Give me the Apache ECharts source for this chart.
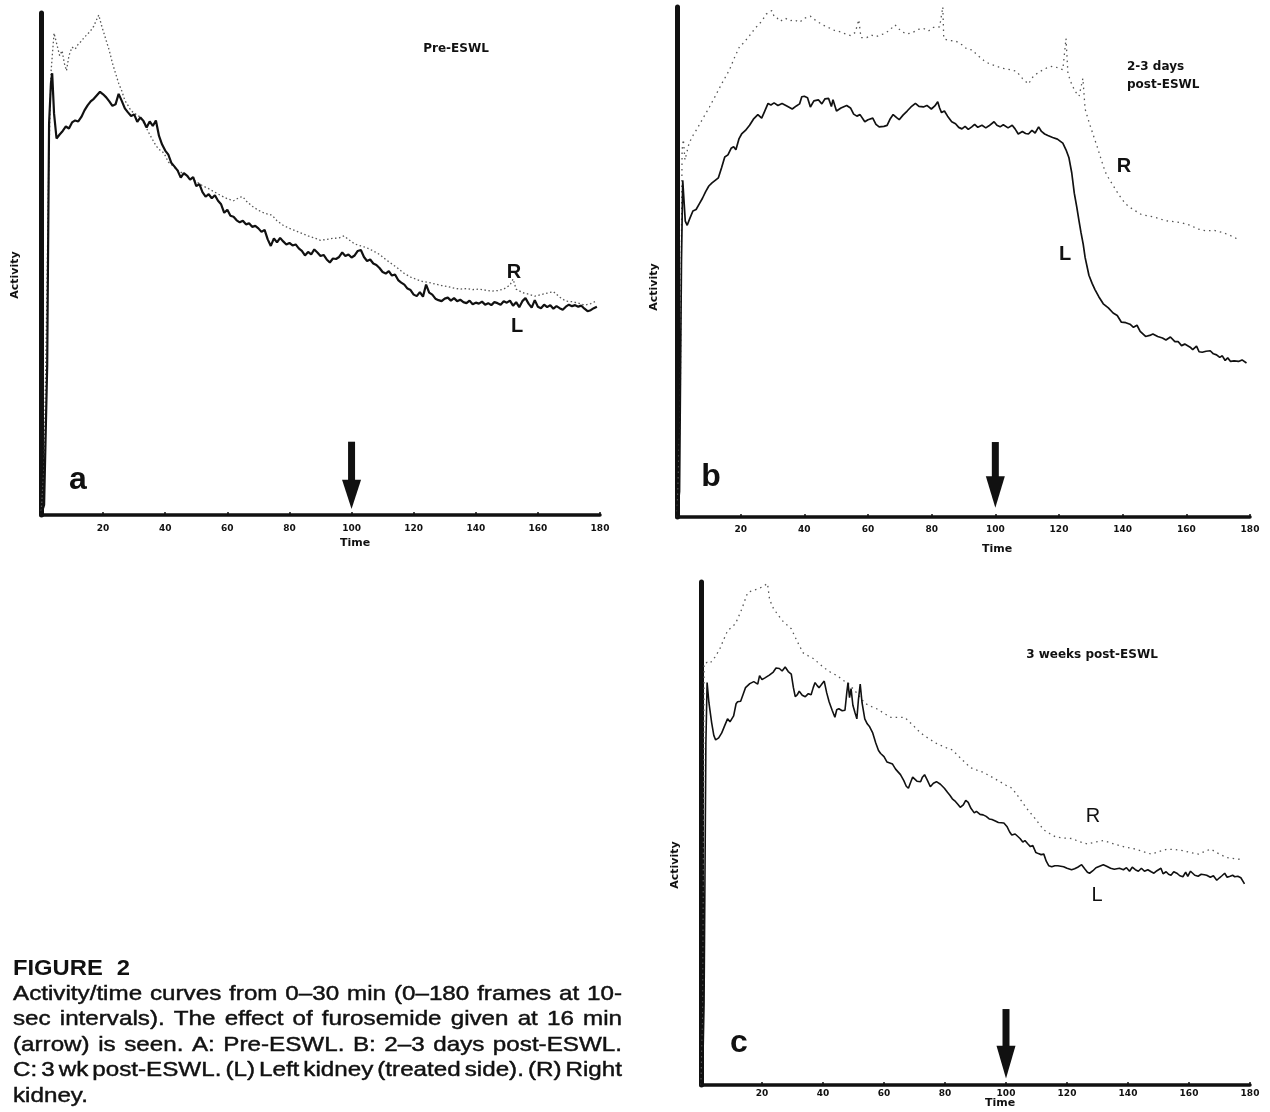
<!DOCTYPE html>
<html><head><meta charset="utf-8">
<script src="https://cdn.jsdelivr.net/npm/echarts@6/dist/echarts.min.js"></script>
<style>html,body{margin:0;padding:0;background:#fff}#chart{width:1270px;height:1112px}</style>
</head><body><div id="chart"></div>
<script>
// ---------------- DATA (frame, relative activity 0-100) ----------------
const timeTickLabels = [20, 40, 60, 80, 100, 120, 140, 160, 180];
const furosemideFrame = 100;

// Panel a : Pre-ESWL
const aL = [[0,0],[1,2],[2,30],[2.6,78],[3.2,86],[3.6,88],[4.2,80],[5,75],[6,75.8],[7,76.5],[8,77.4],[9,77],[10,78.2],[11,78.6],[12,78.4],[13,79.3],[14,80.6],[15,81.6],[16,82.4],[17,82.9],[18,83.6],[19,84.3],[20,83.8],[21,83.2],[22,82.4],[23,81.5],[24,81.8],[25,83.9],[26,82.5],[27,81],[28,80.2],[29,79.5],[30,79.8],[31,78.3],[32,79.2],[33,78.5],[34,77.2],[35,78.4],[36,77.5],[37,78.6],[38,75.5],[39,73.8],[40,72.6],[41,71.8],[42,70.1],[43,69.4],[44,68.6],[45,67.2],[46,68.1],[47,67.6],[48,66.8],[49,67.3],[50,65.5],[51,65.9],[52,64.3],[53,63.4],[54,63.9],[55,63.1],[56,63.7],[57,62.6],[58,61.9],[59,60.2],[60,60.8],[61,59.6],[62,59.4],[63,58.7],[64,58.3],[65,58.6],[66,57.9],[67,58.1],[68,57.4],[69,57.6],[70,57.1],[71,56.4],[72,56.8],[73,54.9],[74,53.6],[75,55.1],[76,54.3],[77,55.2],[78,54.5],[79,53.9],[80,54.2],[81,53.7],[82,53.9],[83,53.1],[84,52.6],[85,51.7],[86,52.4],[87,51.9],[88,52.9],[89,52.3],[90,51.6],[91,51.8],[92,50.9],[93,50.3],[94,51.1],[95,51],[96,51.4],[97,52.3],[98,51.6],[99,51.9],[100,51.3],[101,51.7],[102,52.6],[103,52.8],[104,51.4],[105,50.6],[106,50.9],[107,50.1],[108,49.8],[109,49.2],[110,48.4],[111,48.1],[112,48.6],[113,47.7],[114,47.9],[115,46.8],[116,46.3],[117,45.9],[118,45.1],[119,44.8],[120,43.9],[121,43.6],[122,44.4],[123,43.5],[124,45.9],[125,44.3],[126,43.9],[127,43.1],[128,42.8],[129,42.6],[130,43.1],[131,43.3],[132,42.7],[133,43.2],[134,42.6],[135,42.9],[136,42.4],[137,42.2],[138,42.7],[139,42],[140,42.3],[141,42.1],[142,42.5],[143,41.9],[144,42.2],[145,41.8],[146,42.4],[147,42.2],[148,41.9],[149,42.6],[150,42.3],[151,42.7],[152,41.7],[153,42.4],[154,41.4],[155,42.6],[156,43.2],[157,42.1],[158,41.3],[159,42.8],[160,41.5],[161,41.2],[162,41.9],[163,41.4],[164,41.8],[165,41.1],[166,41.6],[167,41.2],[168,40.9],[169,41.5],[170,41.9],[171,41.6],[172,41.8],[173,41.5],[174,41.7],[175,41.1],[176,40.6],[177,40.8],[178,41.2],[179,41.5]];
const aR = [[0,0],[1,10],[1.8,40],[2.5,70],[3.2,88],[4.2,96],[5,94],[6,91.5],[6.8,92.5],[7.5,90],[8.2,88.5],[9,91.5],[10,93.2],[11,92.8],[12,93.8],[13,94.4],[14,95.2],[15,95.8],[16,96.5],[17,97.4],[18,98.8],[18.6,99.6],[19.5,97.5],[20.5,95.5],[22,92.5],[23,90],[24,88],[25,86],[26,84.5],[27,82.6],[28,81.6],[29,80.5],[30,80.1],[31,79.6],[32,79.3],[33,78.2],[34,77],[35,75.8],[36,74.7],[37,73.6],[38,72.8],[39,72.5],[40,71.6],[41,70.3],[42,69.8],[43,69.2],[44,68.7],[45,68.3],[46,67.9],[47,67.6],[48,67.3],[49,66.8],[50,66.4],[52,65.6],[54,65],[56,64.3],[58,63.6],[60,63],[62,62.6],[64,63.3],[65,63.4],[66,62.6],[68,61.5],[70,60.7],[72,60.1],[74,59.8],[75,59.3],[76,58.6],[78,57.7],[80,57.1],[82,56.6],[84,56.1],[86,55.6],[88,55.2],[90,54.7],[92,54.9],[94,55.1],[96,55.2],[97.6,55.6],[99,54.9],[101,54],[103,53.6],[105,53.2],[107,52.6],[109,51.9],[111,50.9],[113,50],[115,49.1],[117,48.1],[119,47.4],[121,46.9],[123,46.5],[125,46.3],[127,46],[129,45.7],[131,45.5],[133,45.2],[135,45],[137,45.1],[139,44.9],[141,45],[143,44.8],[145,44.6],[147,44.7],[149,45],[151,45.8],[152,47],[153,45],[155,44.3],[157,44],[159,43.6],[161,43.9],[163,44.2],[165,44.5],[167,43.4],[169,42.6],[171,42.5],[173,42.2],[175,41.8],[177,42.1],[178.7,42.6]];

// Panel b : 2-3 days post-ESWL
const bL = [[0,0],[0.8,5],[1.4,50],[1.8,66],[2.2,62],[2.6,58],[3.2,57.2],[4,58.5],[5,60],[6,60.3],[7,61.4],[8,62.5],[9,63.8],[10,64.9],[11,65.5],[12,66],[13,66.5],[14,68.5],[15,70.6],[16,71],[17,72.3],[17.8,72.6],[18.5,72],[19.5,74.2],[20.3,75.1],[21.5,75.8],[22.8,76.8],[24,78],[25.4,78.9],[26.6,78.2],[27.5,79.5],[28.6,81.1],[29.5,80.8],[30.5,81.2],[31.7,80.7],[33,81.1],[34.5,80.6],[36.2,80],[37.5,80.6],[38.5,81],[39.2,82.4],[40,82.5],[41,82.2],[41.9,80.4],[43,81.6],[44.4,81.8],[45.5,81],[46.5,82],[47.6,82.1],[48.5,80.5],[49,81.8],[50.1,79.6],[51.5,80.2],[53.3,80.7],[54.5,80.2],[55.5,79],[56.5,78.6],[57.5,78.9],[59,77.5],[60,77.9],[61.5,78.2],[62.5,77],[63.5,76.5],[65,76.6],[66,76.8],[67,78.1],[67.9,78.9],[69,78.3],[69.8,77.9],[71,78.8],[72.3,79.6],[73.5,80.4],[74.9,81.1],[76,80.5],[77.4,80.4],[78.5,80.7],[79.9,80],[81,80.6],[81.9,81.4],[82.5,80.2],[83.1,79.3],[84,79.6],[85,78.6],[86.3,77.5],[87.5,77.1],[88.5,76.4],[89.5,76.1],[90.5,76.6],[91.5,76],[92.6,76.5],[93.5,77],[94.5,76.4],[95.8,76.8],[97,76.3],[98,76.7],[99.6,77.5],[100.5,76.8],[101.5,76.5],[102.5,76.9],[104,76.3],[105.3,76.8],[106.2,76.1],[107.2,75.1],[108.5,75.6],[109.5,75.2],[110.4,75.1],[111.5,75.8],[112.5,75.3],[113.6,76.5],[114.5,75.6],[115.5,75.1],[116.5,74.8],[118,74.4],[119.5,74.1],[121.2,73.3],[122.2,72],[123.1,70.5],[124,67.5],[124.8,63.5],[125.6,60.7],[126.3,58],[126.9,55.8],[127.6,53.5],[128.2,50.9],[129.4,47.4],[130.4,45.8],[131.3,44.6],[132.5,43.2],[133.9,41.8],[135.5,41],[137,40],[138.3,39.5],[139.6,38.2],[141,38.1],[142.3,37.8],[143.4,37.2],[144.5,37.6],[145.5,36.4],[147.2,35.4],[148.5,35.6],[149.5,35.9],[151,35.4],[152.5,35.1],[153.6,34.7],[155,35.3],[156.4,34.4],[157.4,34.4],[158.5,33.6],[159.5,33.9],[161.2,33.3],[162,32.8],[163.2,33.5],[164,32.4],[165,32.3],[166.2,32.5],[167.5,32.6],[168.5,32],[169.5,31.8],[170.5,31.3],[171.3,31.6],[172.2,30.7],[173,31.2],[173.9,30.5],[175,30.6],[176.4,30.5],[177.5,30.8],[178.9,30.2]];
const bR = [[0,0],[1,20],[1.6,72],[2,74],[2.5,70],[3.8,73.3],[5,74.8],[6.3,76.1],[8,78],[10.2,80.4],[12,82.5],[14,84.9],[16.5,87.7],[18,90],[19.7,92.3],[21,93],[22.8,94.4],[24.5,95.8],[26.6,97.2],[28,98.6],[29.8,99.3],[30.6,98],[31.5,97.8],[32.4,97.2],[34,97.8],[35.5,97.3],[36.8,97.5],[38.5,97],[40,97.8],[41.9,98.2],[43.5,97.4],[45.7,96.5],[47.5,96],[49.5,95.4],[51.5,95.1],[53,94.7],[54.6,94.4],[56,95],[57.1,97.5],[57.8,94],[59.6,94],[61,94.5],[62.5,94.2],[64.7,94.7],[66.5,95.3],[68.5,96.5],[70.5,95.2],[72.3,94.7],[74,95],[75.8,95.6],[77.4,95.8],[79,95.3],[80.5,96],[82.5,96.1],[83.5,100],[83.8,93.8],[85,93.5],[87.6,93.3],[89.5,92.6],[91,91.8],[92.6,91.6],[94.5,90.5],[96.4,89.5],[98,88.9],[100.3,88.4],[102,88],[104,87.8],[106.6,87.4],[108.5,86],[110.4,84.9],[112,86.5],[114.2,87.4],[116,88],[118,88.4],[120,88],[121.2,87.7],[122.2,93.8],[122.8,87],[123.7,85.3],[125,83.5],[126.3,82.5],[127.5,86],[128.2,80],[129.4,77.5],[130.7,75],[132,72.6],[133.3,70],[134.5,67.7],[135.8,66.2],[137.1,64.9],[139,63],[140.9,61.4],[143,60.4],[145.9,59.3],[148.5,59],[151,58.6],[153.5,58.1],[156.1,57.9],[158.5,57.7],[161.2,57.2],[163.5,56.5],[166.2,56.1],[168.7,56.2],[171.3,55.8],[173.8,55.2],[176.4,54.4]];

// Panel c : 3 weeks post-ESWL
const cL = [[0,0],[0.5,1],[1,16],[1.4,50],[1.6,68],[2,80],[2.6,76],[3.5,72],[4.2,69.5],[4.8,68.6],[5.8,69],[6.8,70],[7.8,71.5],[8.7,72.8],[9.5,72.2],[10.7,73.4],[11.5,75.8],[12,76.2],[13,76.3],[14,78],[14.6,79],[16,79.8],[17.3,80.2],[17.9,80.3],[18.6,79.7],[19.2,81.4],[20,80.6],[21.1,81],[22.4,81.5],[23.7,82.1],[24.6,82.9],[25.7,82.8],[26.6,82.3],[27.6,83.1],[28.6,82.2],[29.6,81.7],[30.3,79],[30.9,77.2],[31.6,77.6],[32.2,78.3],[33.2,77.5],[34.2,77.2],[35.2,77.8],[36.1,77.6],[36.8,79],[37.4,80],[38.1,79.4],[38.7,79],[39.5,79.6],[40.4,80.3],[41.2,78],[42,76.2],[43,74.5],[43.9,73.1],[44.5,74.6],[45.2,74.8],[46.3,74.4],[47.2,74.5],[47.8,78],[48.2,80],[48.7,77],[49.2,78.8],[49.8,75.5],[50.5,74],[51.1,72.8],[51.6,76.5],[52.2,79.7],[52.8,76],[53.7,72.8],[54.5,71.8],[55.3,71.2],[56.3,70],[57.3,68],[58.2,66.5],[58.9,65.9],[60,65.3],[61,64.2],[62.8,63.8],[63.8,62.8],[65.4,61.7],[66.5,60.5],[67.3,59.4],[68,59],[68.8,60.3],[69.4,61.2],[70,61],[70.8,60.4],[72,60.3],[72.6,61.2],[73.3,61.7],[74.2,60.6],[75.2,59.3],[76.2,60],[77.2,60.3],[78.5,59.8],[79.8,59],[80.8,58.2],[81.6,57.6],[82.4,56.9],[83.2,56.5],[84.2,55.8],[85,55.2],[86,55.7],[86.8,56.6],[87.6,56.2],[88.5,55],[89.6,54.1],[90.3,54.4],[91.5,53.8],[92.5,53.7],[93.5,53.4],[94.5,52.9],[95.4,52.8],[96.5,52.5],[97.5,52.2],[99.3,52.1],[100.3,51.4],[101.2,50.3],[101.9,49.7],[103,49.9],[104.6,49],[105.5,48.3],[106.2,48.6],[107.2,47.9],[108,47.4],[108.8,47.6],[109.8,46.2],[110.6,46],[111.5,45.8],[112.4,45.9],[113.2,44.5],[114,43.6],[115,43.4],[116,43.6],[117,43.6],[118.9,43.4],[120,43.1],[121.5,42.8],[122.5,43],[123.5,43.3],[124.8,43.8],[125.8,43],[126.7,42.3],[127.4,42.1],[128.5,42.6],[129.5,43.2],[130.7,43.5],[131.9,43.8],[133,43.5],[134.3,43.1],[135.5,42.9],[137.2,43.1],[138.5,42.8],[139.5,43.2],[140.5,42.5],[141.4,43.3],[142.4,42.8],[143.4,42.5],[144.4,43.1],[145.4,42.5],[146.5,42.8],[147.6,42.4],[148.5,42.1],[149.5,42.6],[150.8,43.1],[151.5,42],[152.5,42.4],[153.3,41.9],[154.1,41.7],[155,42.4],[156,42.1],[157,41.6],[158,41.4],[158.9,42.3],[159.6,41.5],[160.5,42.5],[161.9,41.7],[163,41.5],[164,41.9],[165,41.8],[165.8,41.7],[167,41.3],[168,41.6],[169.1,40.7],[170,41.2],[170.8,41.6],[171.7,42.1],[172.5,41.3],[173.5,41.5],[174.3,41.7],[175,41.4],[176,41.5],[177,41.2],[178.2,40]];
const cR = [[0,0],[0.6,15],[1,83.8],[2,84],[2.9,83.8],[4.5,85],[6.1,86.6],[7.4,88.5],[8.7,90.3],[10,91],[11.3,91.7],[13.3,94.5],[15.3,97.9],[17,98.3],[18.5,98.6],[20,99],[21.8,99.7],[22.5,96.5],[23.7,94.8],[25.3,93.4],[27,92.1],[28.3,91.4],[29.6,90.7],[30.9,89],[32.2,87.4],[33.5,85.9],[35.2,85.3],[36.8,84.8],[38.7,83.8],[40.7,82.8],[42.6,82],[44.6,81.4],[46.5,80.5],[48.5,79.7],[51,78],[53.7,75.9],[55.6,75.3],[57.6,74.8],[60,73.9],[62.2,73.1],[64.5,73.1],[66.8,73.1],[69.5,71.5],[72,70],[74.6,68.9],[77.2,67.9],[79.8,67.2],[82.4,66.6],[85.4,64.8],[88.3,63.1],[90.5,62.6],[92.8,62.1],[95.4,61.2],[98,60.3],[100,59.6],[102,59],[104.2,57.2],[106.5,55.2],[109.5,53],[112.4,50.7],[114.3,50],[116.3,49.3],[119,49.1],[121.5,49],[124,48.4],[126.7,47.9],[129.3,48.3],[131.9,48.6],[134.5,48.1],[137.2,47.6],[139.8,47.2],[142.4,46.9],[145,46.4],[147.6,45.9],[150.2,46.4],[152.8,46.9],[155.4,46.8],[157.9,46.6],[160.5,46.2],[163.2,45.9],[165,46.4],[167.1,46.9],[169.7,46],[172.4,45.2],[175,45],[177.6,44.8]];

// furosemide arrows: [frame, shaftTop, headBase, tip]
const arrowA = [[furosemideFrame, 14.6, 7.0, 1.2]];
const arrowB = [[furosemideFrame, 14.7, 8.0, 1.8]];
const arrowC = [[furosemideFrame, 15.1, 7.8, 1.3]];

const captionTitle = 'FIGURE 2';
const captionLines = [
  'Activity/time curves from 0\u201330 min (0\u2013180 frames at 10-',
  'sec intervals). The effect of furosemide given at 16 min',
  '(arrow) is seen. A: Pre-ESWL. B: 2\u20133 days post-ESWL.',
  'C: 3 wk post-ESWL. (L) Left kidney (treated side). (R) Right',
  'kidney.'
];

// ---------------- CHART ----------------
const INK = '#111';
const grids = [
  {left: 41, top: 13, width: 559, height: 502},
  {left: 677, top: 7, width: 573, height: 510},
  {left: 701, top: 582, width: 549, height: 503}
];
const labelMargins = [9, 8, 4];

const xAxes = grids.map((g, i) => ({
  type: 'value', gridIndex: i, min: 0, max: 180, interval: 20,
  axisLine: {show: true, onZero: false, lineStyle: {color: INK, width: 3.5}},
  axisTick: {show: true, inside: true, length: 3, lineStyle: {color: INK, width: 1.5}},
  axisLabel: {show: true, margin: labelMargins[i], fontFamily: 'DejaVu Sans', fontWeight: 'bold', fontSize: 9, color: INK,
    formatter: v => timeTickLabels.includes(v) ? String(v) : ''},
  splitLine: {show: false}
}));
const yAxes = grids.map((g, i) => ({
  type: 'value', gridIndex: i, min: 0, max: 100,
  axisLine: {show: true, onZero: false, lineStyle: {color: INK, width: 5}},
  axisTick: {show: false}, axisLabel: {show: false}, splitLine: {show: false}
}));

function lineL(data, i, w) {
  return {type: 'line', xAxisIndex: i, yAxisIndex: i, data, showSymbol: false, symbol: 'none',
    lineStyle: {color: INK, width: w}, z: 3, animation: false};
}
function lineR(data, i, dash) {
  return {type: 'line', xAxisIndex: i, yAxisIndex: i, data, showSymbol: false, symbol: 'none',
    lineStyle: {color: '#555', width: 1.3, type: dash}, z: 2, animation: false};
}
function arrow(data, i) {
  return {type: 'custom', xAxisIndex: i, yAxisIndex: i, data, animation: false, z: 4,
    encode: {x: 0, y: [1, 2, 3]},
    renderItem: (params, api) => {
      const x = api.value(0);
      const pTop = api.coord([x, api.value(1)]);
      const pBase = api.coord([x, api.value(2)]);
      const pTip = api.coord([x, api.value(3)]);
      return {type: 'group', children: [
        {type: 'rect', shape: {x: pTop[0] - 3.5, y: pTop[1], width: 7, height: pBase[1] - pTop[1] + 1}, style: {fill: INK}},
        {type: 'polygon', shape: {points: [[pBase[0] - 9.5, pBase[1]], [pBase[0] + 9.5, pBase[1]], [pTip[0], pTip[1]]]}, style: {fill: INK}}
      ]};
    }};
}

// text helper
function T(text, x, y, o) {
  o = o || {};
  const st = {text: text, fill: INK, fontFamily: o.ff || 'DejaVu Sans', fontWeight: o.fw || 'bold', fontSize: o.fs || 11,
      align: o.al || 'center', textAlign: o.al || 'center', verticalAlign: 'middle', textVerticalAlign: 'middle'};
  if (o.sw) { st.stroke = INK; st.lineWidth = o.sw; }
  return {type: 'text', x: x, y: y, rotation: o.rot || 0, scaleX: o.sx || 1, z: 10, silent: true, style: st};
}

const graphics = [
  // panel a
  T('Pre-ESWL', 456, 49, {fs: 12}),
  T('Activity', 15, 275, {rot: Math.PI / 2}),
  T('Time', 355, 543),
  T('a', 78, 480, {ff: 'Liberation Sans', fs: 32}),
  T('R', 514, 272, {ff: 'Liberation Sans', fs: 20}),
  T('L', 517, 326, {ff: 'Liberation Sans', fs: 20}),
  // panel b
  T('2-3 days', 1127, 67, {fs: 12, al: 'left'}),
  T('post-ESWL', 1127, 85, {fs: 12, al: 'left'}),
  T('Activity', 654, 287, {rot: Math.PI / 2}),
  T('Time', 997, 549),
  T('b', 711, 477, {ff: 'Liberation Sans', fs: 32}),
  T('R', 1124, 166, {ff: 'Liberation Sans', fs: 20}),
  T('L', 1065, 254, {ff: 'Liberation Sans', fs: 20}),
  // panel c
  T('3 weeks post-ESWL', 1092, 655, {fs: 12}),
  T('Activity', 675, 865, {rot: Math.PI / 2}),
  T('Time', 1000, 1103),
  T('c', 739, 1043, {ff: 'Liberation Sans', fs: 32}),
  T('R', 1093, 816, {ff: 'Liberation Sans', fs: 20, fw: 'normal'}),
  T('L', 1097, 895, {ff: 'Liberation Sans', fs: 20, fw: 'normal'})
];

// caption (justified words)
(function () {
  const ctx = document.createElement('canvas').getContext('2d');
  const fam = '"Liberation Sans", Arial, sans-serif';
  ctx.font = 'bold 22px ' + fam;
  const tParts = captionTitle.split(' ');
  const tStretch = 1.08;
  const w0 = ctx.measureText(tParts[0]).width * tStretch;
  graphics.push(T(tParts[0], 13, 969, {ff: 'Liberation Sans', fs: 22, al: 'left', sx: tStretch}));
  graphics.push(T(tParts[1], 13 + w0 + 14, 969, {ff: 'Liberation Sans', fs: 22, al: 'left', sx: tStretch}));
  const fs = 21;
  ctx.font = fs + 'px ' + fam;
  const L0 = 13, L1 = 622;
  const centers = [994, 1019.5, 1045, 1070.5, 1096];
  const info = captionLines.map(line => {
    const words = line.split(' ');
    const raw = words.map(w => ctx.measureText(w).width);
    return {words, raw, sum: raw.reduce((a, b) => a + b, 0)};
  });
  let s = Infinity;
  info.slice(0, 4).forEach(d => { s = Math.min(s, (L1 - L0 - 4 * (d.words.length - 1)) / d.sum); });
  info.forEach((d, li) => {
    const last = li === info.length - 1;
    const gap = last ? 6 : (L1 - L0 - d.sum * s) / (d.words.length - 1);
    let x = L0;
    d.words.forEach((w, k) => {
      graphics.push(T(w, x, centers[li], {ff: 'Liberation Sans', fs: fs, fw: 'normal', al: 'left', sx: s, sw: 0.45}));
      x += d.raw[k] * s + gap;
    });
  });
})();

const chart = echarts.init(document.getElementById('chart'), null, {renderer: 'canvas'});
chart.setOption({
  animation: false,
  backgroundColor: '#fff',
  grid: grids.map(g => Object.assign({containLabel: false}, g)),
  xAxis: xAxes,
  yAxis: yAxes,
  series: [
    lineR(aR, 0, [1.5, 2.5]), lineL(aL, 0, 2.2), arrow(arrowA, 0),
    lineR(bR, 1, [1.5, 4]), lineL(bL, 1, 1.7), arrow(arrowB, 1),
    lineR(cR, 2, [1.5, 4]), lineL(cL, 2, 1.6), arrow(arrowC, 2)
  ],
  graphic: graphics
});
</script>
</body></html>
